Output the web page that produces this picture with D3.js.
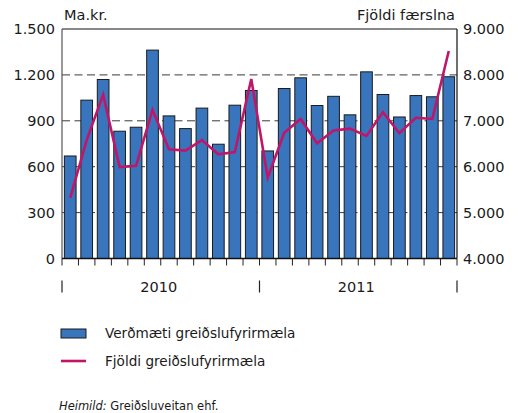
<!DOCTYPE html>
<html>
<head>
<meta charset="utf-8">
<script src="https://cdn.jsdelivr.net/npm/d3@7"></script>
<style>
    body { margin: 0; background: #fff; }
    svg { display: block; font-family: "DejaVu Sans", sans-serif; }
</style>
</head>
<body>
<div class="graph"></div>
<script>
// Months of the chart, jan 2010 - des 2011
const months = [
    "2010-01", "2010-02", "2010-03", "2010-04", "2010-05", "2010-06",
    "2010-07", "2010-08", "2010-09", "2010-10", "2010-11", "2010-12",
    "2011-01", "2011-02", "2011-03", "2011-04", "2011-05", "2011-06",
    "2011-07", "2011-08", "2011-09", "2011-10", "2011-11", "2011-12"
];
// Verðmæti (ma.kr.), left axis
const values = [
    670, 1035, 1170, 832, 858, 1362, 932, 849, 983, 747, 1002, 1098,
    703, 1111, 1181, 1000, 1060, 939, 1220, 1072, 925, 1065, 1057, 1188
];
// Fjöldi færslna, right axis
const counts = [
    5320, 6580, 7570, 5990, 6020, 7240, 6380, 6350, 6580, 6270, 6320, 7910,
    5760, 6740, 7040, 6510, 6790, 6830, 6670, 7190, 6730, 7065, 7040, 8520
];
const years = ["2010", "2011"];
const leftTicks = [0, 300, 600, 900, 1200, 1500];
const rightTicks = [4000, 5000, 6000, 7000, 8000, 9000];
const legendLabels = ["Verðmæti greiðslufyrirmæla", "Fjöldi greiðslufyrirmæla"];

function createChart() {
    const dimensions = {
        width: 518,
        height: 413,
        margins: {
            top: 29,
            right: 61,
            bottom: 154.5,
            left: 62
        }
    }
    dimensions.boundedWidth = dimensions.width
        - dimensions.margins.left
        - dimensions.margins.right;
    dimensions.boundedHeight = dimensions.height
        - dimensions.margins.top
        - dimensions.margins.bottom;

    const barColor = "#3875bd";
    const lineColor = "#c0166a";
    const textColor = "#1a1a1a";

    // Icelandic number format, 1.500
    const locale = d3.formatLocale({decimal: ",", thousands: ".", grouping: [3], currency: ["", ""]});
    const fmt = locale.format(",");

    const wrapper = d3.select(".graph")
        .append("svg")
            .attr("width", dimensions.width)
            .attr("height", dimensions.height);

    const bounds = wrapper.append("g")
        .attr("transform", `translate(${dimensions.margins.left},${dimensions.margins.top})`);

    const xScale = d3.scaleBand()
        .domain(months)
        .range([0, dimensions.boundedWidth])
        .paddingInner(0.29)
        .paddingOuter(0.145);

    const yLeft = d3.scaleLinear()
        .domain([0, 1500])
        .range([dimensions.boundedHeight, 0]);

    const yRight = d3.scaleLinear()
        .domain([4000, 9000])
        .range([dimensions.boundedHeight, 0]);

    // gridlines behind the bars
    bounds.append("g")
        .selectAll("line")
        .data(leftTicks.slice(1, -1))
        .join("line")
            .attr("x1", 0)
            .attr("x2", dimensions.boundedWidth)
            .attr("y1", d => yLeft(d))
            .attr("y2", d => yLeft(d))
            .attr("stroke", "#3a3a3a")
            .attr("stroke-width", 1)
            .attr("stroke-dasharray", "8,4.5");

    // bars
    bounds.append("g")
        .selectAll("rect")
        .data(values)
        .join("rect")
            .attr("x", (d, i) => xScale(months[i]))
            .attr("y", d => yLeft(d))
            .attr("width", xScale.bandwidth())
            .attr("height", d => dimensions.boundedHeight - yLeft(d))
            .attr("fill", barColor)
            .attr("stroke", "#1b1b1b")
            .attr("stroke-width", 1);

    // line
    const lineGenerator = d3.line()
        .x((d, i) => xScale(months[i]) + xScale.bandwidth() / 2)
        .y(d => yRight(d));
    bounds.append("path")
        .attr("d", lineGenerator(counts))
        .attr("fill", "none")
        .attr("stroke", lineColor)
        .attr("stroke-width", 2.6)
        .attr("stroke-linejoin", "miter");

    // frame: top, left, right
    const frame = bounds.append("g").attr("stroke", "#111").attr("stroke-width", 1.2);
    frame.append("line").attr("x1", 0).attr("x2", dimensions.boundedWidth).attr("y1", 0).attr("y2", 0);
    frame.append("line").attr("x1", 0).attr("x2", 0).attr("y1", 0).attr("y2", dimensions.boundedHeight).attr("stroke", "#555");
    frame.append("line").attr("x1", dimensions.boundedWidth).attr("x2", dimensions.boundedWidth).attr("y1", 0).attr("y2", dimensions.boundedHeight);

    // axes
    const yAxisLeft = d3.axisLeft(yLeft).tickValues(leftTicks).tickSize(0).tickPadding(7).tickFormat(fmt);
    const yAxisRight = d3.axisRight(yRight).tickValues(rightTicks).tickSize(0).tickPadding(6).tickFormat(fmt);

    bounds.append("g")
        .call(yAxisLeft)
        .call(g => g.select(".domain").remove())
        .selectAll("text")
            .attr("font-size", 14.5)
            .attr("fill", textColor)
            .attr("font-family", "DejaVu Sans");

    bounds.append("g")
        .attr("transform", `translate(${dimensions.boundedWidth},0)`)
        .call(yAxisRight)
        .call(g => g.select(".domain").remove())
        .selectAll("text")
            .attr("font-size", 14.5)
            .attr("fill", textColor)
            .attr("font-family", "DejaVu Sans");

    // month ticks on the bottom axis
    const step = xScale.step();
    const bottom = bounds.append("g").attr("transform", `translate(0,${dimensions.boundedHeight})`);
    bottom.append("line")
        .attr("x1", 0).attr("x2", dimensions.boundedWidth)
        .attr("stroke", "#111").attr("stroke-width", 1.3);
    bottom.selectAll(".mtick")
        .data(d3.range(months.length + 1))
        .join("line")
            .attr("class", "mtick")
            .attr("x1", i => i * step)
            .attr("x2", i => i * step)
            .attr("y1", 0)
            .attr("y2", 7)
            .attr("stroke", "#222")
            .attr("stroke-width", 1);

    // year separators and labels
    const yearWidth = dimensions.boundedWidth / years.length;
    bottom.selectAll(".ysep")
        .data(d3.range(years.length + 1))
        .join("line")
            .attr("class", "ysep")
            .attr("x1", i => i * yearWidth)
            .attr("x2", i => i * yearWidth)
            .attr("y1", 22)
            .attr("y2", 34)
            .attr("stroke", "#222")
            .attr("stroke-width", 1.2);
    bottom.selectAll(".ylab")
        .data(years)
        .join("text")
            .attr("class", "ylab")
            .attr("x", (d, i) => (i + 0.5) * yearWidth - 2)
            .attr("y", 33)
            .attr("text-anchor", "middle")
            .attr("font-size", 14.5)
            .attr("fill", textColor)
            .text(d => d);

    // axis titles
    wrapper.append("text")
        .attr("x", 64).attr("y", 20)
        .attr("font-size", 14.5).attr("fill", textColor)
        .text("Ma.kr.");
    wrapper.append("text")
        .attr("x", dimensions.margins.left + dimensions.boundedWidth - 2).attr("y", 20)
        .attr("text-anchor", "end")
        .attr("font-size", 14.5).attr("fill", textColor)
        .text("Fjöldi færslna");

    // legend
    const legend = wrapper.append("g").attr("transform", "translate(61,329)");
    legend.append("rect")
        .attr("x", 0).attr("y", 0).attr("width", 25).attr("height", 9)
        .attr("fill", barColor).attr("stroke", "#1b1b1b").attr("stroke-width", 1);
    legend.append("line")
        .attr("x1", 0).attr("x2", 25).attr("y1", 32).attr("y2", 32)
        .attr("stroke", lineColor).attr("stroke-width", 2.6);
    legend.selectAll("text")
        .data(legendLabels)
        .join("text")
            .attr("x", 44)
            .attr("y", (d, i) => 9 + i * 28)
            .attr("font-size", 13.6)
            .attr("fill", textColor)
            .text(d => d);

    // source
    const source = wrapper.append("text")
        .attr("x", 59).attr("y", 410)
        .attr("font-size", 11.5).attr("fill", textColor);
    source.append("tspan").attr("font-style", "italic").text("Heimild:");
    source.append("tspan").text(" Greiðsluveitan ehf.");
}

createChart();
</script>
</body>
</html>
